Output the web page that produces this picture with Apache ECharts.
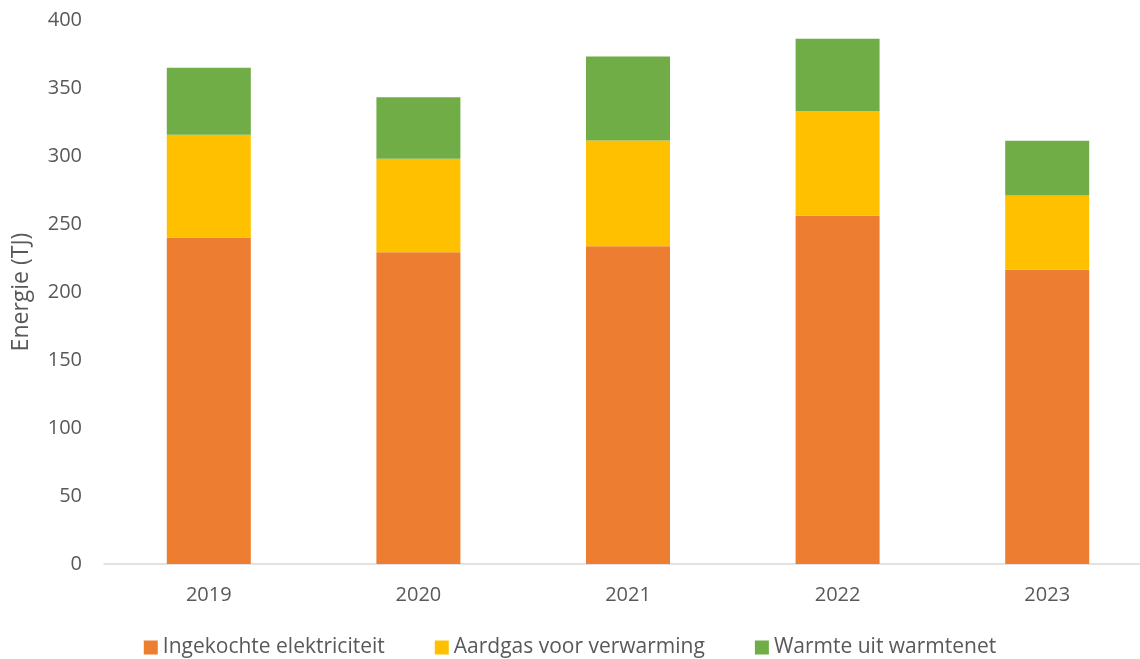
<!DOCTYPE html>
<html>
<head>
<meta charset="utf-8">
<script src="https://cdn.jsdelivr.net/npm/echarts@6/dist/echarts.min.js"></script>
<style>
  html, body { margin: 0; padding: 0; background: #fff; }
  #chart { width: 1140px; height: 659px; }
</style>
</head>
<body>
<div id="chart"></div>
<script>
// Energy use per year, stacked by source (TJ)
const years = ['2019', '2020', '2021', '2022', '2023'];
const elektriciteit = [240.1, 229.3, 233.7, 256.0, 216.3];
const aardgas = [75.5, 68.6, 77.7, 76.9, 54.7];
const warmte = [49.3, 45.3, 61.8, 53.3, 40.2];
const yTicks = [0, 50, 100, 150, 200, 250, 300, 350, 400];

const textColor = '#595959';
const fontFamily = '"Open Sans", "Noto Sans", sans-serif';

const chart = echarts.init(document.getElementById('chart'), null, { renderer: 'canvas' });

function barSeries(name, data, color) {
  return {
    name: name,
    type: 'bar',
    stack: 'total',
    data: data,
    barWidth: 84,
    itemStyle: { color: color },
    emphasis: { disabled: true }
  };
}

chart.setOption({
  animation: false,
  textStyle: { fontFamily: fontFamily },
  grid: {
    left: 104, top: 20, right: -12, bottom: 95,
    containLabel: false,
    outerBoundsMode: 'none'
  },
  legend: {
    top: 632,
    left: 'center',
    itemWidth: 14,
    itemHeight: 14,
    itemGap: 50,
    icon: 'rect',
    textStyle: { color: textColor, fontSize: 21, fontFamily: fontFamily },
    data: ['Ingekochte elektriciteit', 'Aardgas voor verwarming', 'Warmte uit warmtenet']
  },
  xAxis: {
    type: 'category',
    data: years,
    axisLine: { lineStyle: { color: '#d9d9d9', width: 1.5 } },
    axisTick: { show: false },
    axisLabel: { color: textColor, fontSize: 20, margin: 21, fontFamily: fontFamily }
  },
  yAxis: {
    type: 'value',
    min: yTicks[0],
    max: yTicks[yTicks.length - 1],
    interval: yTicks[1] - yTicks[0],
    name: 'Energie (TJ)',
    nameLocation: 'middle',
    nameGap: 71,
    nameTextStyle: { color: textColor, fontSize: 23, fontFamily: fontFamily },
    axisLine: { show: false },
    axisTick: { show: false },
    splitLine: { show: false },
    axisLabel: { color: textColor, fontSize: 20, margin: 22, fontFamily: fontFamily }
  },
  series: [
    barSeries('Ingekochte elektriciteit', elektriciteit, '#ed7d31'),
    barSeries('Aardgas voor verwarming', aardgas, '#ffc000'),
    barSeries('Warmte uit warmtenet', warmte, '#70ad47')
  ]
});
</script>
</body>
</html>
